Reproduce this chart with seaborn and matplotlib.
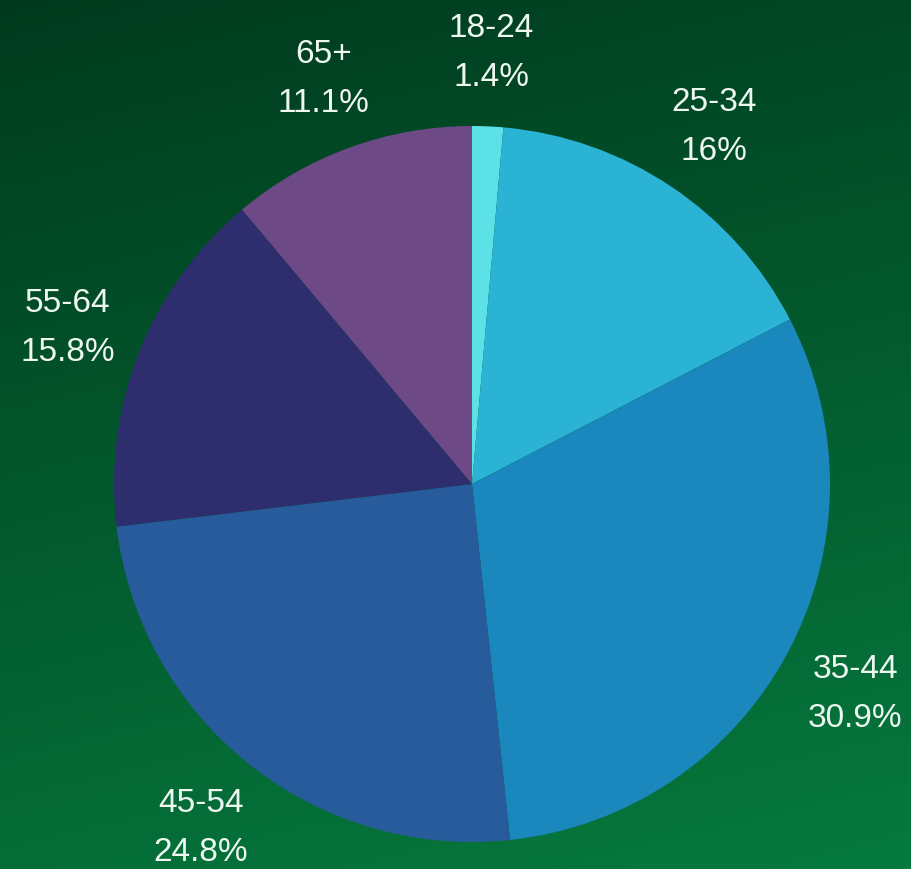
import numpy as np
import matplotlib
matplotlib.use("Agg")
import matplotlib.pyplot as plt
import seaborn as sns
from matplotlib.colors import LinearSegmentedColormap

# age groups and share of respondents (%)
groups = ["18-24", "25-34", "35-44", "45-54", "55-64", "65+"]
shares = [1.4, 16, 30.9, 24.8, 15.8, 11.1]
share_labels = ["1.4%", "16%", "30.9%", "24.8%", "15.8%", "11.1%"]
colors = ["#5ce1e6", "#2bb3d5", "#1a87bd", "#275b9c", "#2e2d6d", "#6d4a86"]

sns.set_style("white")
plt.rcParams["font.family"] = ["Liberation Sans", "DejaVu Sans"]

fig = plt.figure(figsize=(9.12, 8.69), dpi=100)

# green gradient background
bg = fig.add_axes([0, 0, 1, 1])
yy, xx = np.mgrid[0:1:200j, 0:1:200j]
grad = 0.8 * yy + 0.2 * xx
cmap = LinearSegmentedColormap.from_list("bg", ["#003a1e", "#067a3e"])
bg.imshow(grad, cmap=cmap, aspect="auto", extent=[0, 1, 1, 0], interpolation="bilinear")
bg.set_axis_off()

# pie axes: centre (472, 484) px, radius 358 px
W, H = 912, 869
r = 358
ax = fig.add_axes([(472 - r) / W, (H - 484 - r) / H, 2 * r / W, 2 * r / H])
labels = [f"{g}\n{s}" for g, s in zip(groups, share_labels)]
wedges, texts = ax.pie(shares, labels=labels, colors=colors, startangle=90,
                       counterclock=False, labeldistance=1.215,
                       wedgeprops=dict(linewidth=0),
                       textprops=dict(color="#eef7f0", fontsize=24))
for t in texts:
    t.set_ha("center")
    t.set_va("center")
    t.set_linespacing(1.75)
    x, y = t.get_position()
    t.set_position((x, y - 4 / r))
ax.set_xlim(-1, 1)
ax.set_ylim(-1, 1)
ax.set_axis_off()

fig.savefig("out.png", dpi=100)
